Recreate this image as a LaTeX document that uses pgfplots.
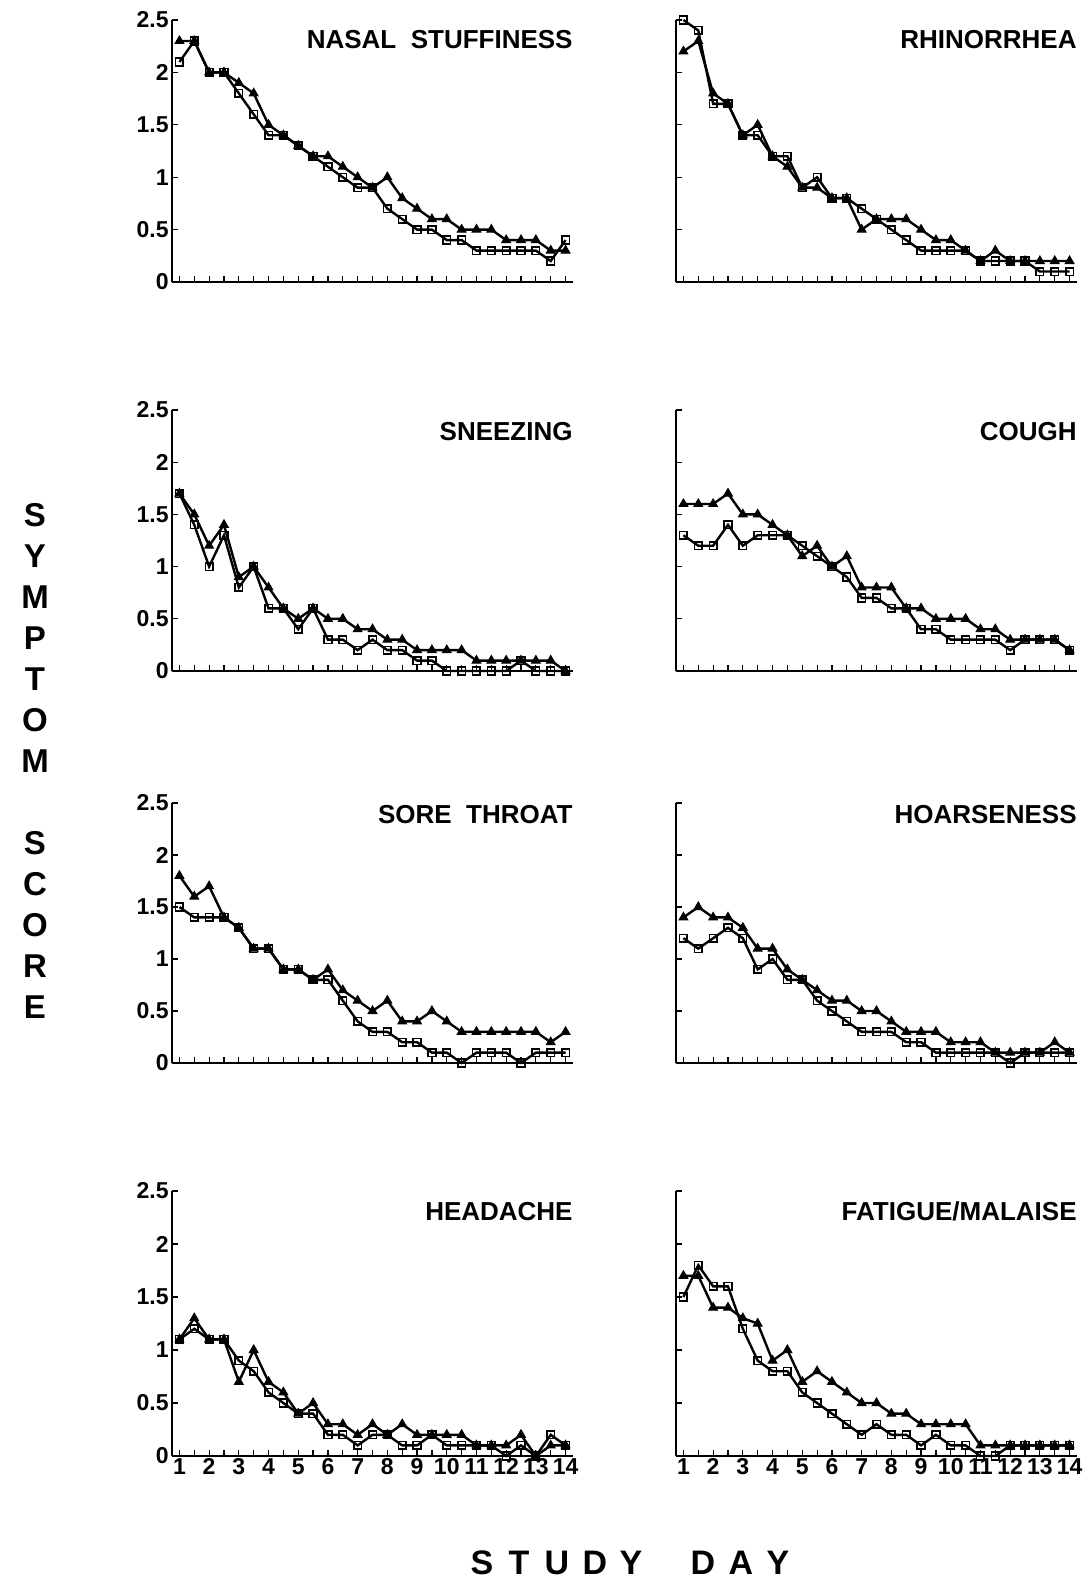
\documentclass[border=0pt]{standalone}
\usepackage{pgfplots}
\pgfplotsset{compat=1.18}
\usepackage{pgfplotstable}
\usepackage{fontspec}
\setmainfont{Liberation Sans}

% day, then triangle / square series for each symptom
\pgfplotstableread{
x    nsT nsS rhT rhS snT snS coT coS stT stS hoT hoS heT heS faT  faS
1    2.3 2.1 2.2 2.5 1.7 1.7 1.6 1.3 1.8 1.5 1.4 1.2 1.1 1.1 1.7  1.5
1.5  2.3 2.3 2.3 2.4 1.5 1.4 1.6 1.2 1.6 1.4 1.5 1.1 1.3 1.2 1.7  1.8
2    2.0 2.0 1.8 1.7 1.2 1.0 1.6 1.2 1.7 1.4 1.4 1.2 1.1 1.1 1.4  1.6
2.5  2.0 2.0 1.7 1.7 1.4 1.3 1.7 1.4 1.4 1.4 1.4 1.3 1.1 1.1 1.4  1.6
3    1.9 1.8 1.4 1.4 0.9 0.8 1.5 1.2 1.3 1.3 1.3 1.2 0.7 0.9 1.3  1.2
3.5  1.8 1.6 1.5 1.4 1.0 1.0 1.5 1.3 1.1 1.1 1.1 0.9 1.0 0.8 1.25 0.9
4    1.5 1.4 1.2 1.2 0.8 0.6 1.4 1.3 1.1 1.1 1.1 1.0 0.7 0.6 0.9  0.8
4.5  1.4 1.4 1.1 1.2 0.6 0.6 1.3 1.3 0.9 0.9 0.9 0.8 0.6 0.5 1.0  0.8
5    1.3 1.3 0.9 0.9 0.5 0.4 1.1 1.2 0.9 0.9 0.8 0.8 0.4 0.4 0.7  0.6
5.5  1.2 1.2 0.9 1.0 0.6 0.6 1.2 1.1 0.8 0.8 0.7 0.6 0.5 0.4 0.8  0.5
6    1.2 1.1 0.8 0.8 0.5 0.3 1.0 1.0 0.9 0.8 0.6 0.5 0.3 0.2 0.7  0.4
6.5  1.1 1.0 0.8 0.8 0.5 0.3 1.1 0.9 0.7 0.6 0.6 0.4 0.3 0.2 0.6  0.3
7    1.0 0.9 0.5 0.7 0.4 0.2 0.8 0.7 0.6 0.4 0.5 0.3 0.2 0.1 0.5  0.2
7.5  0.9 0.9 0.6 0.6 0.4 0.3 0.8 0.7 0.5 0.3 0.5 0.3 0.3 0.2 0.5  0.3
8    1.0 0.7 0.6 0.5 0.3 0.2 0.8 0.6 0.6 0.3 0.4 0.3 0.2 0.2 0.4  0.2
8.5  0.8 0.6 0.6 0.4 0.3 0.2 0.6 0.6 0.4 0.2 0.3 0.2 0.3 0.1 0.4  0.2
9    0.7 0.5 0.5 0.3 0.2 0.1 0.6 0.4 0.4 0.2 0.3 0.2 0.2 0.1 0.3  0.1
9.5  0.6 0.5 0.4 0.3 0.2 0.1 0.5 0.4 0.5 0.1 0.3 0.1 0.2 0.2 0.3  0.2
10   0.6 0.4 0.4 0.3 0.2 0.0 0.5 0.3 0.4 0.1 0.2 0.1 0.2 0.1 0.3  0.1
10.5 0.5 0.4 0.3 0.3 0.2 0.0 0.5 0.3 0.3 0.0 0.2 0.1 0.2 0.1 0.3  0.1
11   0.5 0.3 0.2 0.2 0.1 0.0 0.4 0.3 0.3 0.1 0.2 0.1 0.1 0.1 0.1  0.0
11.5 0.5 0.3 0.3 0.2 0.1 0.0 0.4 0.3 0.3 0.1 0.1 0.1 0.1 0.1 0.1  0.0
12   0.4 0.3 0.2 0.2 0.1 0.0 0.3 0.2 0.3 0.1 0.1 0.0 0.1 0.0 0.1  0.1
12.5 0.4 0.3 0.2 0.2 0.1 0.1 0.3 0.3 0.3 0.0 0.1 0.1 0.2 0.1 0.1  0.1
13   0.4 0.3 0.2 0.1 0.1 0.0 0.3 0.3 0.3 0.1 0.1 0.1 0.0 0.0 0.1  0.1
13.5 0.3 0.2 0.2 0.1 0.1 0.0 0.3 0.3 0.2 0.1 0.2 0.1 0.1 0.2 0.1  0.1
14   0.3 0.4 0.2 0.1 0.0 0.0 0.2 0.2 0.3 0.1 0.1 0.1 0.1 0.1 0.1  0.1
}\data

\pgfplotsset{
  panel/.style={
    scale only axis, width=200.5pt,
    xmin=0.75, xmax=14.25, ymin=0, ymax=2.5,
    axis lines=left,
    axis line style={-, line width=0.6pt},
    tick align=inside,
    tick style={black, line width=0.6pt},
    major tick length=3pt, minor tick length=3pt,
    xtick={1,...,14}, minor xtick={1.5,2.5,...,13.5},
    ytick={0,0.5,1,1.5,2,2.5},
    clip=false,
    tick label style={font=\bfseries\fontsize{11.5}{12}\selectfont},
    yticklabel style={inner sep=1.5pt},
    xticklabel style={inner sep=1pt},
    /pgf/number format/assume math mode=true,
    anchor=south west,
  },
  nox/.style={xticklabels={}},
  noy/.style={yticklabels={}},
  sqline/.style={black, line width=1.2pt, mark=square, mark size=1.9pt,
    mark options={fill=white, line width=0.8pt}},
  triline/.style={black, line width=1.2pt, mark=triangle*, mark size=2.5pt,
    mark options={fill=black, line width=0.5pt}},
}
\newcommand{\ttl}[2]{\node[anchor=base east, inner sep=0pt, yshift=#1,
  font=\bfseries\fontsize{13}{13}\selectfont] at (rel axis cs:1,1) {#2};}

\begin{document}
\begin{tikzpicture}
\useasboundingbox (0,0) rectangle (542.5pt,-791.5pt);

% row 1
\begin{axis}[panel, nox, height=131pt, at={(86pt,-141pt)}]
\addplot[sqline] table[x=x, y=nsS] {\data};
\addplot[triline] table[x=x, y=nsT] {\data};
\ttl{-14pt}{NASAL\ \ STUFFINESS}
\end{axis}
\begin{axis}[panel, nox, noy, height=131pt, at={(338pt,-141pt)}]
\addplot[sqline] table[x=x, y=rhS] {\data};
\addplot[triline] table[x=x, y=rhT] {\data};
\ttl{-14pt}{RHINORRHEA}
\end{axis}

% row 2
\begin{axis}[panel, nox, height=130.5pt, at={(86pt,-335.5pt)}]
\addplot[sqline] table[x=x, y=snS] {\data};
\addplot[triline] table[x=x, y=snT] {\data};
\ttl{-15pt}{SNEEZING}
\end{axis}
\begin{axis}[panel, nox, noy, height=130.5pt, at={(338pt,-335.5pt)}]
\addplot[sqline] table[x=x, y=coS] {\data};
\addplot[triline] table[x=x, y=coT] {\data};
\ttl{-15pt}{COUGH}
\end{axis}

% row 3
\begin{axis}[panel, nox, height=130pt, at={(86pt,-531.5pt)}]
\addplot[sqline] table[x=x, y=stS] {\data};
\addplot[triline] table[x=x, y=stT] {\data};
\ttl{-10pt}{SORE\ \ THROAT}
\end{axis}
\begin{axis}[panel, nox, noy, height=130pt, at={(338pt,-531.5pt)}]
\addplot[sqline] table[x=x, y=hoS] {\data};
\addplot[triline] table[x=x, y=hoT] {\data};
\ttl{-10pt}{HOARSENESS}
\end{axis}

% row 4
\begin{axis}[panel, height=132.5pt, at={(86pt,-728pt)}]
\addplot[sqline] table[x=x, y=heS] {\data};
\addplot[triline] table[x=x, y=heT] {\data};
\ttl{-14.5pt}{HEADACHE}
\end{axis}
\begin{axis}[panel, noy, height=132.5pt, at={(338pt,-728pt)}]
\addplot[sqline] table[x=x, y=faS] {\data};
\addplot[triline] table[x=x, y=faT] {\data};
\ttl{-14.5pt}{FATIGUE/MALAISE}
\end{axis}

% axis titles
\foreach \l/\yy in {S/515,Y/556,M/597,P/638,T/679,O/720,M/761,S/843,C/884,O/925,R/966,E/1007}
  \node[font=\bfseries\fontsize{16.5}{16.5}\selectfont] at (17.5pt,{-0.5pt*\yy}) {\l};
\foreach \l/\xx in {S/482,T/519,U/557,D/595,Y/631,D/703,A/741,Y/778}
  \node[font=\bfseries\fontsize{17}{17}\selectfont] at ({0.5pt*\xx},-781.5pt) {\l};
\end{tikzpicture}
\end{document}
